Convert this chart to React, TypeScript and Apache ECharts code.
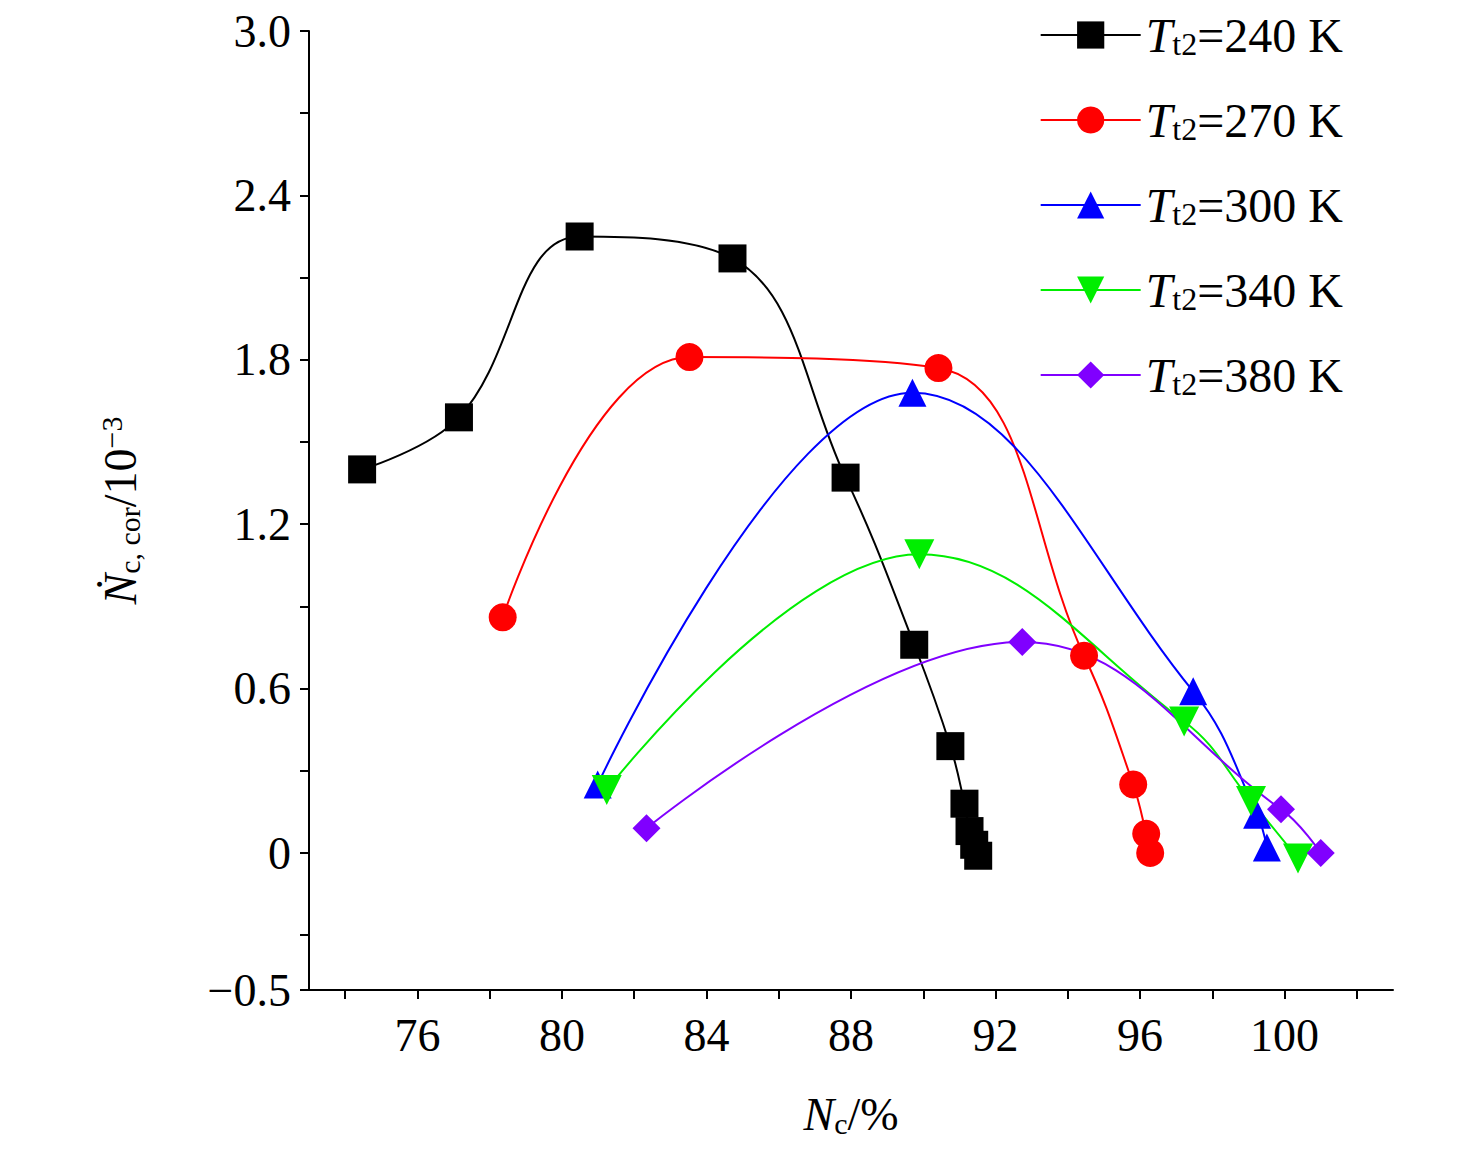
import React, { useEffect, useRef } from "react";
import * as echarts from "echarts";

const names = ["240 K", "270 K", "300 K", "340 K", "380 K"];
const colors = ["#000000", "#ff0000", "#0000ff", "#00ee00", "#8000ff"];
const symbols = ["rect", "circle", "triangle", "path://M0,0 L10,0 L5,9 Z", "diamond"];
const s240 = [[74.47,1.40],[77.15,1.59],[80.49,2.25],[84.72,2.17],[87.85,1.37],[89.75,0.76],[90.75,0.39],[91.14,0.18],[91.28,0.08],[91.41,0.03],[91.52,-0.01]];
const s270 = [[78.36,0.86],[83.53,1.81],[90.42,1.77],[94.45,0.72],[95.81,0.25],[96.17,0.07],[96.28,0.0]];
const s300 = [[80.99,0.25],[89.70,1.68],[97.47,0.59],[99.24,0.14],[99.51,0.02]];
const s340 = [[81.24,0.23],[89.89,1.09],[97.22,0.48],[99.07,0.19],[100.37,-0.02]];
const s380 = [[82.34,0.09],[92.74,0.77],[99.9,0.16],[101.0,0.0]];
const allData = [s240, s270, s300, s340, s380];
const yLabels = [-0.5, 0, 0.6, 1.2, 1.8, 2.4, 3.0];
const yTicks = [-0.5, -0.3, 0, 0.3, 0.6, 0.9, 1.2, 1.5, 1.8, 2.1, 2.4, 2.7, 3.0];
const xLabels = [76, 80, 84, 88, 92, 96, 100];
const xTicks = [74, 76, 78, 80, 82, 84, 86, 88, 90, 92, 94, 96, 98, 100, 102];

const F = "'Liberation Serif', 'Times New Roman', serif";

export default function App() {
  const ref = useRef<HTMLDivElement>(null);
  useEffect(() => {
    const chart = echarts.init(ref.current!, null, { renderer: "svg" });
    const axisCommon = {
      axisLine: { show: true, onZero: false, lineStyle: { color: "#000", width: 2 } },
      axisTick: { show: true, inside: false, length: 9, lineStyle: { color: "#000", width: 2 } },
      splitLine: { show: false },
      axisLabel: { color: "#000", fontSize: 46, fontFamily: F },
    };
    chart.setOption({
      animation: false,
      backgroundColor: "#fff",
      grid: { left: 301, top: 20, right: 75, bottom: 158 },
      legend: {
        orient: "vertical", right: 120, top: -2, itemGap: 36, itemWidth: 100, itemHeight: 34,
        textStyle: {
          fontSize: 48, fontFamily: F, color: "#000",
          rich: {
            i: { fontStyle: "italic", fontSize: 48, fontFamily: F },
            sub: { fontSize: 32, fontFamily: F, padding: [18, 0, 0, 0] },
            n: { fontSize: 48, fontFamily: F },
          },
        },
        formatter: (n: string) => `{i|T}{sub|t2}{n|=${n}}`,
        data: names,
      },
      xAxis: {
        type: "value", min: 73, max: 103, ...axisCommon,
        axisTick: { ...axisCommon.axisTick, customValues: xTicks },
        axisLabel: { ...axisCommon.axisLabel, customValues: xLabels, margin: 22 },
        name: "{i|N}{sub|c}{n|/%}", nameLocation: "middle", nameGap: 100,
        nameTextStyle: {
          rich: {
            i: { fontStyle: "italic", fontSize: 46, fontFamily: F, color: "#000" },
            sub: { fontSize: 30, fontFamily: F, color: "#000", padding: [18, 0, 0, 0] },
            n: { fontSize: 46, fontFamily: F, color: "#000" },
          },
        },
      },
      yAxis: {
        type: "value", min: -0.5, max: 3.0, ...axisCommon,
        axisTick: { ...axisCommon.axisTick, customValues: yTicks },
        axisLabel: { ...axisCommon.axisLabel, customValues: yLabels, margin: 18,
          formatter: (v: number) => (v < 0 ? "\u2212" + Math.abs(v) : v === 3 ? "3.0" : String(v)) },
        name: "{i|\u1E44}{sub|c, cor}{n|/10}{sup|\u22123}", nameLocation: "middle", nameGap: 165, nameRotate: 90,
        nameTextStyle: {
          rich: {
            i: { fontStyle: "italic", fontSize: 46, fontFamily: F, color: "#000" },
            sub: { fontSize: 30, fontFamily: F, color: "#000", padding: [18, 0, 0, 0] },
            n: { fontSize: 46, fontFamily: F, color: "#000" },
            sup: { fontSize: 30, fontFamily: F, color: "#000", padding: [0, 0, 18, 0] },
          },
        },
      },
      series: allData.map((d, i) => ({
        name: names[i], type: "line", data: d, smooth: 0.4,
        symbol: symbols[i], symbolSize: i === 3 ? 30 : 28,
        lineStyle: { color: colors[i], width: 2 },
        itemStyle: { color: colors[i] },
      })),
    });
    return () => chart.dispose();
  }, []);
  return <div ref={ref} style={{ width: 1460, height: 1140 }} />;
}
